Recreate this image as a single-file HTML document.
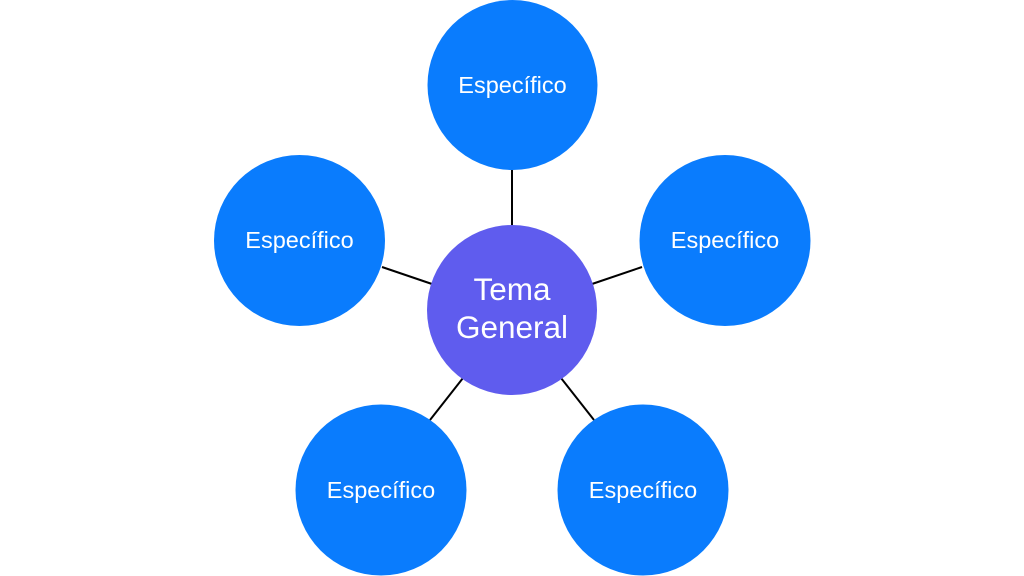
<!DOCTYPE html>
<html><head><meta charset="utf-8"><style>
html,body{margin:0;padding:0;background:#fff;width:1024px;height:576px;overflow:hidden}
</style></head><body>
<svg width="1024" height="576" viewBox="0 0 1024 576" xmlns="http://www.w3.org/2000/svg">
<g stroke="#000" stroke-width="2">
<line x1="512" y1="168" x2="512" y2="228"/>
<line x1="382" y1="267" x2="432" y2="284"/>
<line x1="592" y1="284" x2="642" y2="267"/>
<line x1="430" y1="420" x2="463" y2="378"/>
<line x1="561" y1="378" x2="594" y2="420"/>
</g>
<g fill="#0a7cfd">
<circle cx="512.5" cy="85" r="85"/>
<circle cx="299.5" cy="240.5" r="85.5"/>
<circle cx="725" cy="240.5" r="85.5"/>
<circle cx="381" cy="490" r="85.5"/>
<circle cx="643" cy="490" r="85.5"/>
</g>
<circle cx="512" cy="310" r="85" fill="#5f5cee"/>
<g fill="#fff" font-family="Liberation Sans, sans-serif" font-size="23.5" text-anchor="middle">
<text x="512.5" y="93">Específico</text>
<text x="299.5" y="248">Específico</text>
<text x="725" y="248">Específico</text>
<text x="381" y="498">Específico</text>
<text x="643" y="498">Específico</text>
</g>
<g fill="#fff" font-family="Liberation Sans, sans-serif" font-size="31.5" text-anchor="middle">
<text x="512" y="300">Tema</text>
<text x="512" y="338">General</text>
</g>
</svg>
</body></html>
